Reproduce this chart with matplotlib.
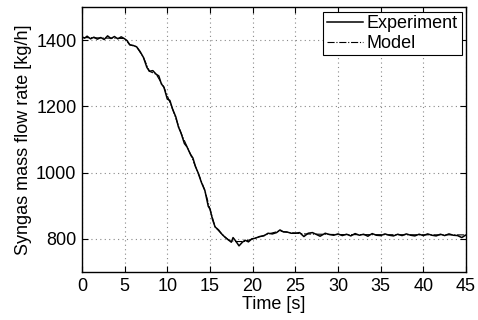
import matplotlib
matplotlib.use("Agg")
import matplotlib.pyplot as plt

plt.rcParams['font.family'] = ['Liberation Sans', 'DejaVu Sans']

# Experiment data
t_exp = [0, 0.3, 0.6, 1.0, 1.4, 1.8, 2.2, 2.6, 3.0, 3.4, 3.8, 4.2, 4.6, 5.0, 5.3, 5.6,
         6.0, 6.4, 6.8, 7.2, 7.6, 7.9, 8.3, 8.7, 9.0, 9.3, 9.6, 10.0, 10.3, 10.6, 11.0,
         11.3, 11.6, 12.0, 12.3, 12.7, 13.0, 13.3, 13.6, 14.0, 14.4, 14.8, 15.0, 15.3,
         15.6, 16.0, 16.4, 16.8, 17.2, 17.5, 17.7, 18.0, 18.4, 18.8, 19.1, 19.5, 19.9,
         20.3, 20.8, 21.3, 21.8, 22.3, 22.8, 23.2, 23.6, 24.0, 24.5, 25.0, 25.5, 26.0,
         26.5, 27.0, 27.5, 27.9, 28.5, 29.0, 29.5, 30.0, 30.5, 31.0, 31.5, 32.0, 32.5,
         33.0, 33.5, 34.0, 34.5, 35.0, 35.5, 36.0, 36.5, 37.0, 37.5, 38.0, 38.5, 39.0,
         39.5, 40.0, 40.5, 41.0, 41.5, 42.0, 42.5, 43.0, 43.5, 44.0, 44.5, 45.0]
y_exp = [1410, 1406, 1412, 1404, 1409, 1403, 1408, 1402, 1413, 1405, 1411, 1404, 1410, 1404,
         1398, 1386, 1384, 1380, 1366, 1348, 1318, 1306, 1308, 1297, 1292, 1268, 1258, 1222,
         1218, 1193, 1168, 1138, 1120, 1088, 1078, 1056, 1044, 1018, 1000, 970, 946, 898, 890,
         858, 836, 827, 814, 804, 796, 790, 804, 794, 779, 790, 796, 791, 800, 802, 807, 809,
         817, 815, 819, 827, 821, 821, 817, 817, 819, 807, 817, 819, 813, 808, 817, 813, 811,
         815, 810, 814, 809, 816, 811, 814, 808, 816, 811, 810, 815, 811, 809, 814, 810, 815,
         811, 809, 814, 810, 815, 811, 809, 814, 810, 815, 811, 810, 804, 812]

# Model data (smooth, largely hidden beneath experiment)
t_mod = [0, 5, 5.6, 6.4, 7.2, 7.9, 8.7, 9.6, 10.6, 11.6, 12.7, 13.6, 14.4, 15.0, 15.6,
         16.4, 17.2, 18.0, 19.0, 20.0, 21.0, 22.0, 23.2, 24.0, 26.0, 30.0, 45]
y_mod = [1408, 1405, 1386, 1380, 1348, 1306, 1297, 1258, 1193, 1120, 1056, 1000, 946, 890,
         836, 814, 796, 792, 792, 800, 808, 816, 824, 820, 815, 813, 812]

fig = plt.figure(figsize=(4.78, 3.2), dpi=100)
ax = fig.add_axes([0.1715, 0.15, 0.8035, 0.828])

ax.plot(t_mod, y_mod, color='black', linestyle='-.', linewidth=0.8, label='Model', zorder=2)
ax.plot(t_exp, y_exp, color='black', linestyle='-', linewidth=1.1, label='Experiment', zorder=3)

ax.set_xlim(0, 45)
ax.set_ylim(700, 1500)
ax.set_xticks(range(0, 46, 5))
ax.set_yticks([800, 1000, 1200, 1400])
ax.grid(True, linestyle=(0, (1, 3)), color='#888888', linewidth=0.8)
ax.tick_params(direction='in', top=True, right=True, labelsize=13, length=4, pad=4)
for s in ax.spines.values():
    s.set_linewidth(1.0)

ax.set_xlabel('Time [s]', fontsize=13, labelpad=1)
ax.set_ylabel('Syngas mass flow rate [kg/h]', fontsize=13, labelpad=3)

handles, labels = ax.get_legend_handles_labels()
leg = ax.legend(handles[::-1], labels[::-1], loc='upper right', fontsize=13,
                frameon=True, fancybox=False, edgecolor='black', framealpha=1,
                handlelength=2.0, handletextpad=0.2, borderpad=0.2, labelspacing=0.15,
                borderaxespad=0.25)
leg.get_frame().set_linewidth(0.8)

fig.savefig('out.png', dpi=100)
